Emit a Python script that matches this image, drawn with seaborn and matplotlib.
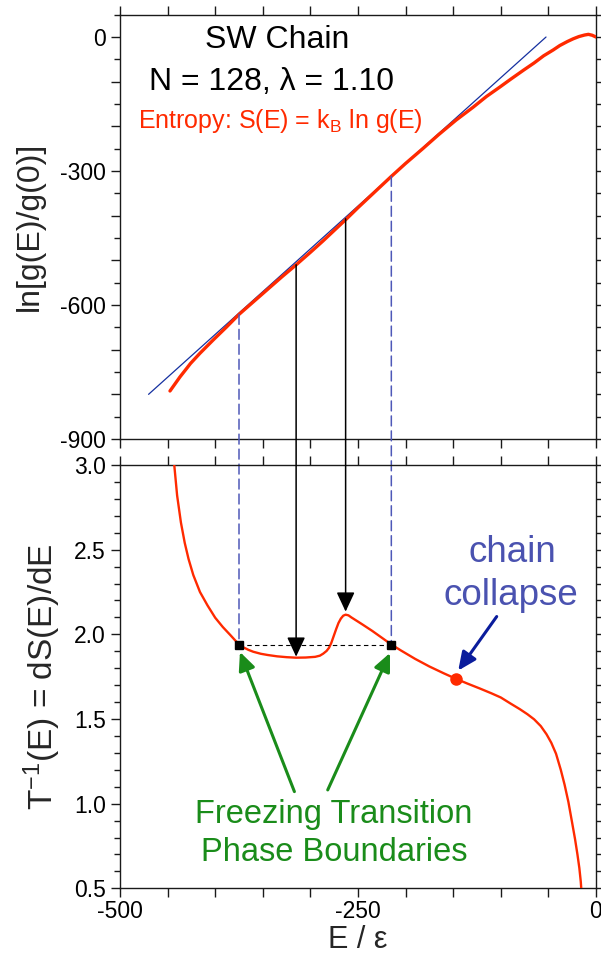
import numpy as np
import pandas as pd
import matplotlib
matplotlib.use("Agg")
import matplotlib.pyplot as plt
import seaborn as sns
from matplotlib.patches import ConnectionPatch
from matplotlib.ticker import MultipleLocator, FuncFormatter

# ---------------- data ----------------
# microcanonical log density of states, ln[g(E)/g(0)]
energy_top = [-447.5, -443, -437, -430, -426, -416, -402, -388, -375, -360,
              -345, -330, -315, -300, -287, -275, -262, -250, -235, -215,
              -200, -182, -165, -147, -129, -115, -101, -90, -76, -65,
              -55, -45, -38, -30, -24, -18, -12, -8, -4, 0]
log_dos = [-792.5, -779, -761, -742, -731, -708, -678, -649, -621, -593,
           -565, -537, -510, -482, -457, -433, -407, -382, -352, -312,
           -283, -250, -218, -186, -157, -133, -112, -95, -74, -58,
           -42, -29, -19, -10, -4, 1, 4.5, 6, 4, 0]

# common tangent (double-tangent construction)
tangent_E = [-470, -52.5]
tangent_S = [-800, 0]

# inverse microcanonical temperature dS/dE
energy_bot = [-443, -440, -436, -432, -428, -423, -416, -408, -400, -392,
              -384, -378, -375, -370, -365, -360, -352, -345, -335, -325,
              -315, -305, -295, -290, -286.5, -283, -280.5, -278, -275.5, -273,
              -270.5, -268, -265.5, -263, -260, -257, -250, -245, -235, -225,
              -215, -205, -190, -175, -160, -147, -135, -122, -110, -100,
              -90, -80, -72, -65, -58, -52, -47, -42, -37, -33,
              -29, -25, -22, -19.5, -17.5, -16, -15.5]
inv_temp = [3.00, 2.82, 2.66, 2.54, 2.445, 2.35, 2.25, 2.17, 2.098, 2.043,
            1.995, 1.958, 1.940, 1.922, 1.908, 1.897, 1.885, 1.878, 1.870, 1.865,
            1.862, 1.863, 1.867, 1.874, 1.886, 1.902, 1.920, 1.950, 1.990, 2.030,
            2.067, 2.093, 2.110, 2.116, 2.112, 2.100, 2.075, 2.057, 2.020, 1.980,
            1.940, 1.905, 1.855, 1.810, 1.770, 1.737, 1.709, 1.680, 1.652, 1.627,
            1.592, 1.558, 1.528, 1.498, 1.458, 1.410, 1.360, 1.295, 1.200, 1.112,
            1.010, 0.885, 0.790, 0.700, 0.620, 0.540, 0.500]

# phase boundaries of the freezing transition
boundary_E = [-375, -215]
boundary_S = [-621, -312]
coexist_T = 1.937

# arrows mapping S(E) onto T^-1(E)
arrow_E = [-315, -263]
arrow_S = [-510, -407]
arrow_T = [1.868, 2.134]

# chain collapse point
collapse_E = -147
collapse_T = 1.737

# ---------------- style ----------------
RED = "#ff2a00"
BLUE = "#1530a0"
DASH_BLUE = "#4e58b8"
TEXT_BLUE = "#4a52b0"
ARROW_BLUE = "#0a1c9c"
GREEN = "#1a8c1a"
INK = "#1a1a1a"

sns.set_theme(style="ticks")
plt.rcParams["font.family"] = ["Liberation Sans", "DejaVu Sans"]
plt.rcParams["mathtext.fontset"] = "custom"
plt.rcParams["mathtext.rm"] = "Liberation Sans"
plt.rcParams["mathtext.it"] = "Liberation Sans:italic"
plt.rcParams["mathtext.bf"] = "Liberation Sans:bold"
plt.rcParams["mathtext.default"] = "regular"
plt.rcParams["axes.unicode_minus"] = False

fig = plt.figure(figsize=(6.01, 9.59), dpi=100)
fig.patch.set_facecolor("white")
ax1 = fig.add_axes([0.19967, 0.54223, 0.79201, 0.44244])
ax2 = fig.add_axes([0.19967, 0.07372, 0.79201, 0.44140])


def style_axes(ax):
    ax.set_facecolor("white")
    for sp in ax.spines.values():
        sp.set_visible(True)
        sp.set_linewidth(1.0)
        sp.set_color(INK)
    ax.tick_params(axis="both", which="both", direction="out", top=True,
                   right=True, colors=INK, width=1.0, labelsize=16.5,
                   labelcolor="black")
    ax.tick_params(axis="x", which="both", length=6.2, pad=2)
    ax.tick_params(axis="y", which="major", length=6.2, pad=4)
    ax.tick_params(axis="y", which="minor", length=4.0)
    ax.tick_params(labelright=False, labeltop=False)
    ax.xaxis.set_major_locator(MultipleLocator(250))
    ax.xaxis.set_minor_locator(MultipleLocator(50))
    ax.set_xlim(-500, 0)


# ---------------- top panel: ln g(E) ----------------
sns.lineplot(x=tangent_E, y=tangent_S, ax=ax1, color=BLUE, linewidth=0.9,
             sort=False, zorder=2)
sns.lineplot(x=energy_top, y=log_dos, ax=ax1, color=RED, linewidth=2.4,
             sort=False, zorder=3)
style_axes(ax1)
ax1.set_ylim(-900, 50)
ax1.yaxis.set_major_locator(MultipleLocator(100))
ax1.yaxis.set_minor_locator(MultipleLocator(50))
ax1.yaxis.set_major_formatter(
    FuncFormatter(lambda v, p: f"{v:.0f}" if round(v) % 300 == 0 else ""))
ax1.tick_params(labelbottom=False)
ax1.set_xlabel("")
ax1.set_ylabel("ln[g(E)/g(0)]", fontsize=23)
ax1.yaxis.set_label_coords(-0.158, 0.5)

ax1.text(0.330, 0.9208, "SW Chain", transform=ax1.transAxes, ha="center",
         va="baseline", fontsize=23, color="black")
ax1.text(0.319, 0.8225, "N = 128, λ = 1.10", transform=ax1.transAxes,
         ha="center", va="baseline", fontsize=23, color="black")
ax1.text(0.336, 0.7323, "Entropy: S(E) = k$_B$ ln g(E)", transform=ax1.transAxes,
         ha="center", va="baseline", fontsize=18, color=RED)

# ---------------- bottom panel: 1/T(E) ----------------
sns.lineplot(x=energy_bot, y=inv_temp, ax=ax2, color=RED, linewidth=1.7,
             sort=False, zorder=3)
style_axes(ax2)
ax2.set_ylim(0.5, 3.0)
ax2.yaxis.set_major_locator(MultipleLocator(0.5))
ax2.yaxis.set_minor_locator(MultipleLocator(0.1))
ax2.yaxis.set_major_formatter(FuncFormatter(lambda v, p: f"{v:.1f}"))
ax2.xaxis.set_major_formatter(FuncFormatter(lambda v, p: f"{v:.0f}"))
ax2.set_xlabel("E / ε", fontsize=22, labelpad=2)
ax2.set_ylabel("T$^{-1}$(E) = dS(E)/dE", fontsize=24)
ax2.yaxis.set_label_coords(-0.12, 0.5)

# coexistence line with phase-boundary markers
ax2.plot(boundary_E, [coexist_T, coexist_T], linestyle=(0, (4, 3)),
         color="black", linewidth=0.8, zorder=4)
ax2.plot(boundary_E, [coexist_T, coexist_T], linestyle="none", marker="s",
         markersize=6, color="black", zorder=6)
ax2.plot([collapse_E], [collapse_T], linestyle="none", marker="o",
         markersize=8, color=RED, zorder=6)

# dashed guides from the tangent points down to the phase boundaries
for e, s in zip(boundary_E, boundary_S):
    con = ConnectionPatch(xyA=(e, s), coordsA=ax1.transData,
                          xyB=(e, coexist_T), coordsB=ax2.transData,
                          color=DASH_BLUE, linewidth=1.1,
                          linestyle=(0, (6.5, 3.3)), zorder=2, clip_on=False)
    ax2.add_artist(con)

# vertical arrows from S(E) to T^-1(E)
for e, s, t in zip(arrow_E, arrow_S, arrow_T):
    con = ConnectionPatch(xyA=(e, s), coordsA=ax1.transData,
                          xyB=(e, t), coordsB=ax2.transData,
                          arrowstyle="-|>,head_length=0.6,head_width=0.28",
                          mutation_scale=20, color="black", linewidth=1.1,
                          shrinkA=0, shrinkB=0, zorder=5, clip_on=False)
    ax2.add_artist(con)

# annotations
ax2.text(0.8235, 0.7716, "chain", transform=ax2.transAxes, ha="center",
         va="baseline", fontsize=26.5, color=TEXT_BLUE)
ax2.text(0.8214, 0.6693, "collapse", transform=ax2.transAxes, ha="center",
         va="baseline", fontsize=26.5, color=TEXT_BLUE)
ax2.annotate("", xy=(-144.7, 1.786), xytext=(-104.3, 2.105),
             arrowprops=dict(arrowstyle="-|>,head_length=0.55,head_width=0.25",
                             mutation_scale=20, color=ARROW_BLUE, linewidth=2.2,
                             shrinkA=0, shrinkB=0), zorder=7)

ax2.text(0.4496, 0.1543, "Freezing Transition", transform=ax2.transAxes,
         ha="center", va="baseline", fontsize=23.5, color=GREEN)
ax2.text(0.4506, 0.0652, "Phase Boundaries", transform=ax2.transAxes,
         ha="center", va="baseline", fontsize=23.5, color=GREEN)
for tail, tip in [((-316.8, 1.071), (-374.0, 1.896)),
                  ((-281.8, 1.081), (-216.4, 1.890))]:
    ax2.annotate("", xy=tip, xytext=tail,
                 arrowprops=dict(arrowstyle="-|>,head_length=0.55,head_width=0.25",
                                 mutation_scale=20, color=GREEN, linewidth=2.2,
                                 shrinkA=0, shrinkB=0), zorder=7)

fig.savefig("out.png", dpi=100, facecolor="white")
